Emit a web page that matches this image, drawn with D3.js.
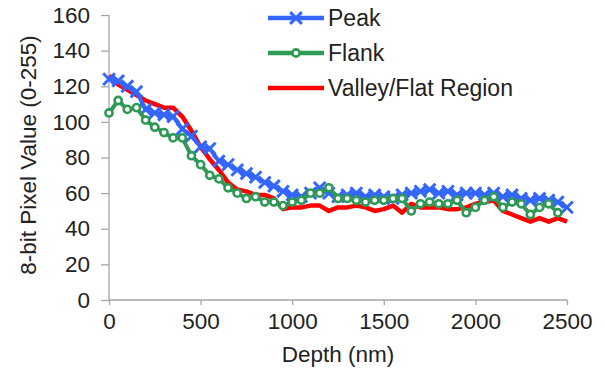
<!DOCTYPE html>
<html>
<head>
<meta charset="utf-8">
<script src="https://cdn.jsdelivr.net/npm/d3@7"></script>
<style>
body { margin: 0; background: #fff; }
text { font-family: "Liberation Sans", Arial, sans-serif; fill: #222; }
</style>
</head>
<body>
<div id="chart"></div>
<script>
// depth step of 50 nm
var depth = [0,50,100,150,200,250,300,350,400,450,500,550,600,650,700,750,800,850,900,950,
	1000,1050,1100,1150,1200,1250,1300,1350,1400,1450,1500,1550,1600,1650,1700,1750,1800,1850,1900,1950,
	2000,2050,2100,2150,2200,2250,2300,2350,2400,2450,2500];

var peak = [124,123,120,117,107,105,104,103,96,92,86,85,78,76,73,71,69,66,64,61,
	59,58,60,63,60,58,59,60,58,59,58,57,59,60,61,62,60,61,59,60,
	60,59,60,58,59,57,56,57,56,55,52];

var flank = [105,112,107,108,101,97,94,91,91,81,76,70,68,63,60,57,58,55,55,53,
	55,56,60,60,63,57,57,56,55,56,56,57,57,50,54,55,54,54,56,49,
	52,56,58,52,55,54,48,52,54,49];

var valley = [126,121,118,115,112,110,108,108,103,95,86,79,73,66,62,61,59,59,57,51,
	52,52,53,53,50,52,52,53,52,50,51,53,49,54,52,52,52,51,51,52,
	54,55,56,50,48,46,44,46,44,46,44];

var xTicks = [0,500,1000,1500,2000,2500];
var yTicks = [0,20,40,60,80,100,120,140,160];

var legendNames = ["Peak", "Flank", "Valley/Flat Region"];
var colors = ["#3366ff", "#2e9a55", "#ff0000"];

var svg = d3.select("#chart").append("svg")
	.attr("width", 605)
	.attr("height", 373);

var x = d3.scaleLinear().domain([0, 2500]).range([109, 567]);
var y = d3.scaleLinear().domain([0, 160]).range([300, 15]);

// axes
var xAxis = svg.append("g")
	.attr("transform", "translate(0,300)")
	.call(d3.axisBottom(x).tickValues(xTicks).tickFormat(d3.format("d")).tickSize(5).tickPadding(8));
var yAxis = svg.append("g")
	.attr("transform", "translate(109,0)")
	.call(d3.axisLeft(y).tickValues(yTicks).tickFormat(d3.format("d")).tickSize(8).tickPadding(11));

svg.selectAll(".domain, .tick line").attr("stroke", "#a6a6a6").attr("stroke-width", 1.3);
xAxis.select(".domain").attr("d", "M109,0H567");
yAxis.select(".domain").attr("d", "M0,15V300");
svg.selectAll(".tick text")
	.attr("font-size", 22.5)
	.attr("font-family", "Liberation Sans, Arial, sans-serif")
	.attr("fill", "#222");

svg.append("text")
	.attr("x", x(1250))
	.attr("y", 362)
	.attr("text-anchor", "middle")
	.attr("font-size", 22.5)
	.text("Depth (nm)");

svg.append("text")
	.attr("transform", "translate(36,155) rotate(-90)")
	.attr("text-anchor", "middle")
	.attr("font-size", 22.5)
	.text("8-bit Pixel Value (0-255)");

var line = d3.line()
	.x(function(d) { return x(d[0]); })
	.y(function(d) { return y(d[1]); });

function pairs(vals) {
	return vals.map(function(v, i) { return [depth[i], v]; });
}

// valley (bottom)
svg.append("path")
	.datum(pairs(valley))
	.attr("d", line)
	.attr("fill", "none")
	.attr("stroke", colors[2])
	.attr("stroke-width", 4.5)
	.attr("stroke-linejoin", "round");

// peak
svg.append("path")
	.datum(pairs(peak))
	.attr("d", line)
	.attr("fill", "none")
	.attr("stroke", colors[0])
	.attr("stroke-width", 4)
	.attr("stroke-linejoin", "round");

var cross = d3.symbol().type(d3.symbolX).size(90);
svg.selectAll(".peakMark").data(pairs(peak))
	.enter().append("path")
	.attr("class", "peakMark")
	.attr("d", cross)
	.attr("transform", function(d) { return "translate(" + x(d[0]) + "," + y(d[1]) + ")"; })
	.attr("fill", "none")
	.attr("stroke", colors[0])
	.attr("stroke-width", 3);

// flank (top)
svg.append("path")
	.datum(pairs(flank))
	.attr("d", line)
	.attr("fill", "none")
	.attr("stroke", colors[1])
	.attr("stroke-width", 4)
	.attr("stroke-linejoin", "round");

svg.selectAll(".flankMark").data(pairs(flank))
	.enter().append("circle")
	.attr("class", "flankMark")
	.attr("cx", function(d) { return x(d[0]); })
	.attr("cy", function(d) { return y(d[1]); })
	.attr("r", 3.6)
	.attr("fill", "#fff")
	.attr("stroke", colors[1])
	.attr("stroke-width", 2.6);

// legend
var legY = [18, 53, 88];
var leg = svg.selectAll(".leg").data(legendNames)
	.enter().append("g")
	.attr("class", "leg")
	.attr("transform", function(d, i) { return "translate(268," + legY[i] + ")"; });

leg.append("line")
	.attr("x1", 0).attr("x2", 56)
	.attr("y1", 0).attr("y2", 0)
	.attr("stroke", function(d, i) { return colors[i]; })
	.attr("stroke-width", 4.5);

leg.filter(function(d, i) { return i == 0; }).append("path")
	.attr("d", cross)
	.attr("transform", "translate(28,0)")
	.attr("fill", "none")
	.attr("stroke", colors[0])
	.attr("stroke-width", 3);

leg.filter(function(d, i) { return i == 1; }).append("circle")
	.attr("cx", 28).attr("cy", 0).attr("r", 3.6)
	.attr("fill", "#fff")
	.attr("stroke", colors[1])
	.attr("stroke-width", 2.6);

leg.append("text")
	.attr("x", 60)
	.attr("y", 8)
	.attr("font-size", 23)
	.text(function(d) { return d; });
</script>
</body>
</html>
